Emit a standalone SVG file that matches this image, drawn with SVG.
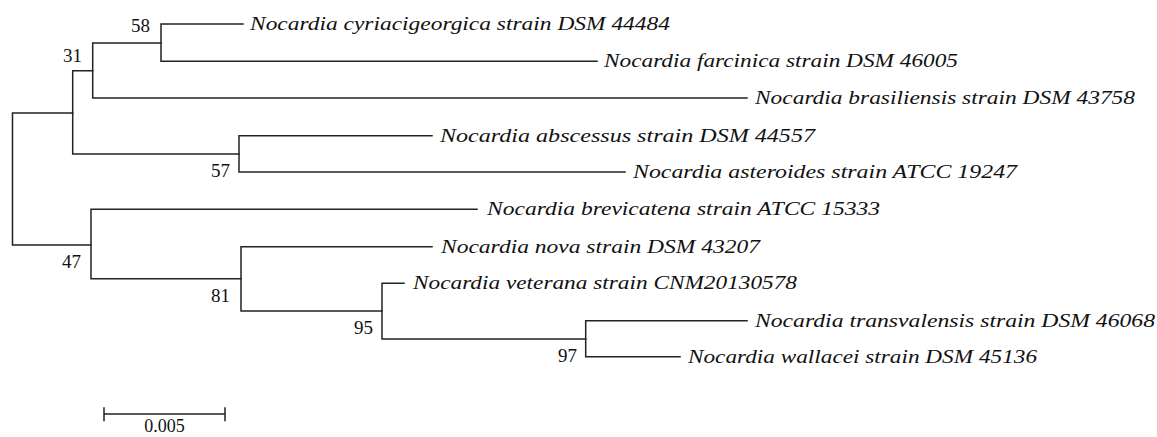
<svg xmlns="http://www.w3.org/2000/svg" width="1157" height="437" viewBox="0 0 1157 437">
<style>
.br{fill:none;stroke:#222;stroke-width:1.5;stroke-linecap:square}
.leaf{font-family:"Liberation Serif","Times New Roman",serif;font-style:italic;font-size:19px;fill:#111}
.bs{font-family:"Liberation Serif","Times New Roman",serif;font-size:19px;fill:#111;text-anchor:end}
.sc{font-family:"Liberation Serif","Times New Roman",serif;font-size:18px;fill:#111;text-anchor:middle}
</style>
<rect width="1157" height="437" fill="#fff"/>
<g id="connectors">
<path class="br" d="M72.7,113H12.5V245H91"/>
<path class="br" d="M92.7,70.7H72.7V154H239"/>
<path class="br" d="M161,43H92.7V98H747"/>
<path class="br" d="M243,24H161V61.3H597"/>
<path class="br" d="M432,135.7H239V172H625"/>
<path class="br" d="M477,209.3H91V278.7H241"/>
<path class="br" d="M432,246.7H241V311H382"/>
<path class="br" d="M404,283.3H382V339H585.7"/>
<path class="br" d="M747,320.7H585.7V356.7H680"/>
</g>
<g id="scale-bar">
<path class="br" d="M104,414H225M104,408V420.5M225,408V420.5"/>
<text class="sc" x="164.5" y="432">0.005</text>
</g>
<g id="node-58"><text class="bs" x="150" y="31.7">58</text></g>
<g id="node-31"><text class="bs" x="82" y="61.7">31</text></g>
<g id="node-57"><text class="bs" x="230" y="176.7">57</text></g>
<g id="node-47"><text class="bs" x="81" y="267.7">47</text></g>
<g id="node-81"><text class="bs" x="230" y="301.7">81</text></g>
<g id="node-95"><text class="bs" x="373" y="334">95</text></g>
<g id="node-97"><text class="bs" x="577" y="362.3">97</text></g>
<g id="leaf-cyriacigeorgica"><text class="leaf" x="250" y="30" textLength="420" lengthAdjust="spacingAndGlyphs">Nocardia cyriacigeorgica strain DSM 44484</text></g>
<g id="leaf-farcinica"><text class="leaf" x="604" y="67.3" textLength="354" lengthAdjust="spacingAndGlyphs">Nocardia farcinica strain DSM 46005</text></g>
<g id="leaf-brasiliensis"><text class="leaf" x="755" y="104" textLength="380" lengthAdjust="spacingAndGlyphs">Nocardia brasiliensis strain DSM 43758</text></g>
<g id="leaf-abscessus"><text class="leaf" x="440" y="141.7" textLength="375" lengthAdjust="spacingAndGlyphs">Nocardia abscessus strain DSM 44557</text></g>
<g id="leaf-asteroides"><text class="leaf" x="633" y="178" textLength="384" lengthAdjust="spacingAndGlyphs">Nocardia asteroides strain ATCC 19247</text></g>
<g id="leaf-brevicatena"><text class="leaf" x="487" y="215.3" textLength="393" lengthAdjust="spacingAndGlyphs">Nocardia brevicatena strain ATCC 15333</text></g>
<g id="leaf-nova"><text class="leaf" x="441" y="252.7" textLength="319" lengthAdjust="spacingAndGlyphs">Nocardia nova strain DSM 43207</text></g>
<g id="leaf-veterana"><text class="leaf" x="413" y="289.3" textLength="384" lengthAdjust="spacingAndGlyphs">Nocardia veterana strain CNM20130578</text></g>
<g id="leaf-transvalensis"><text class="leaf" x="755" y="326.7" textLength="400" lengthAdjust="spacingAndGlyphs">Nocardia transvalensis strain DSM 46068</text></g>
<g id="leaf-wallacei"><text class="leaf" x="688" y="362.7" textLength="349" lengthAdjust="spacingAndGlyphs">Nocardia wallacei strain DSM 45136</text></g>
</svg>
